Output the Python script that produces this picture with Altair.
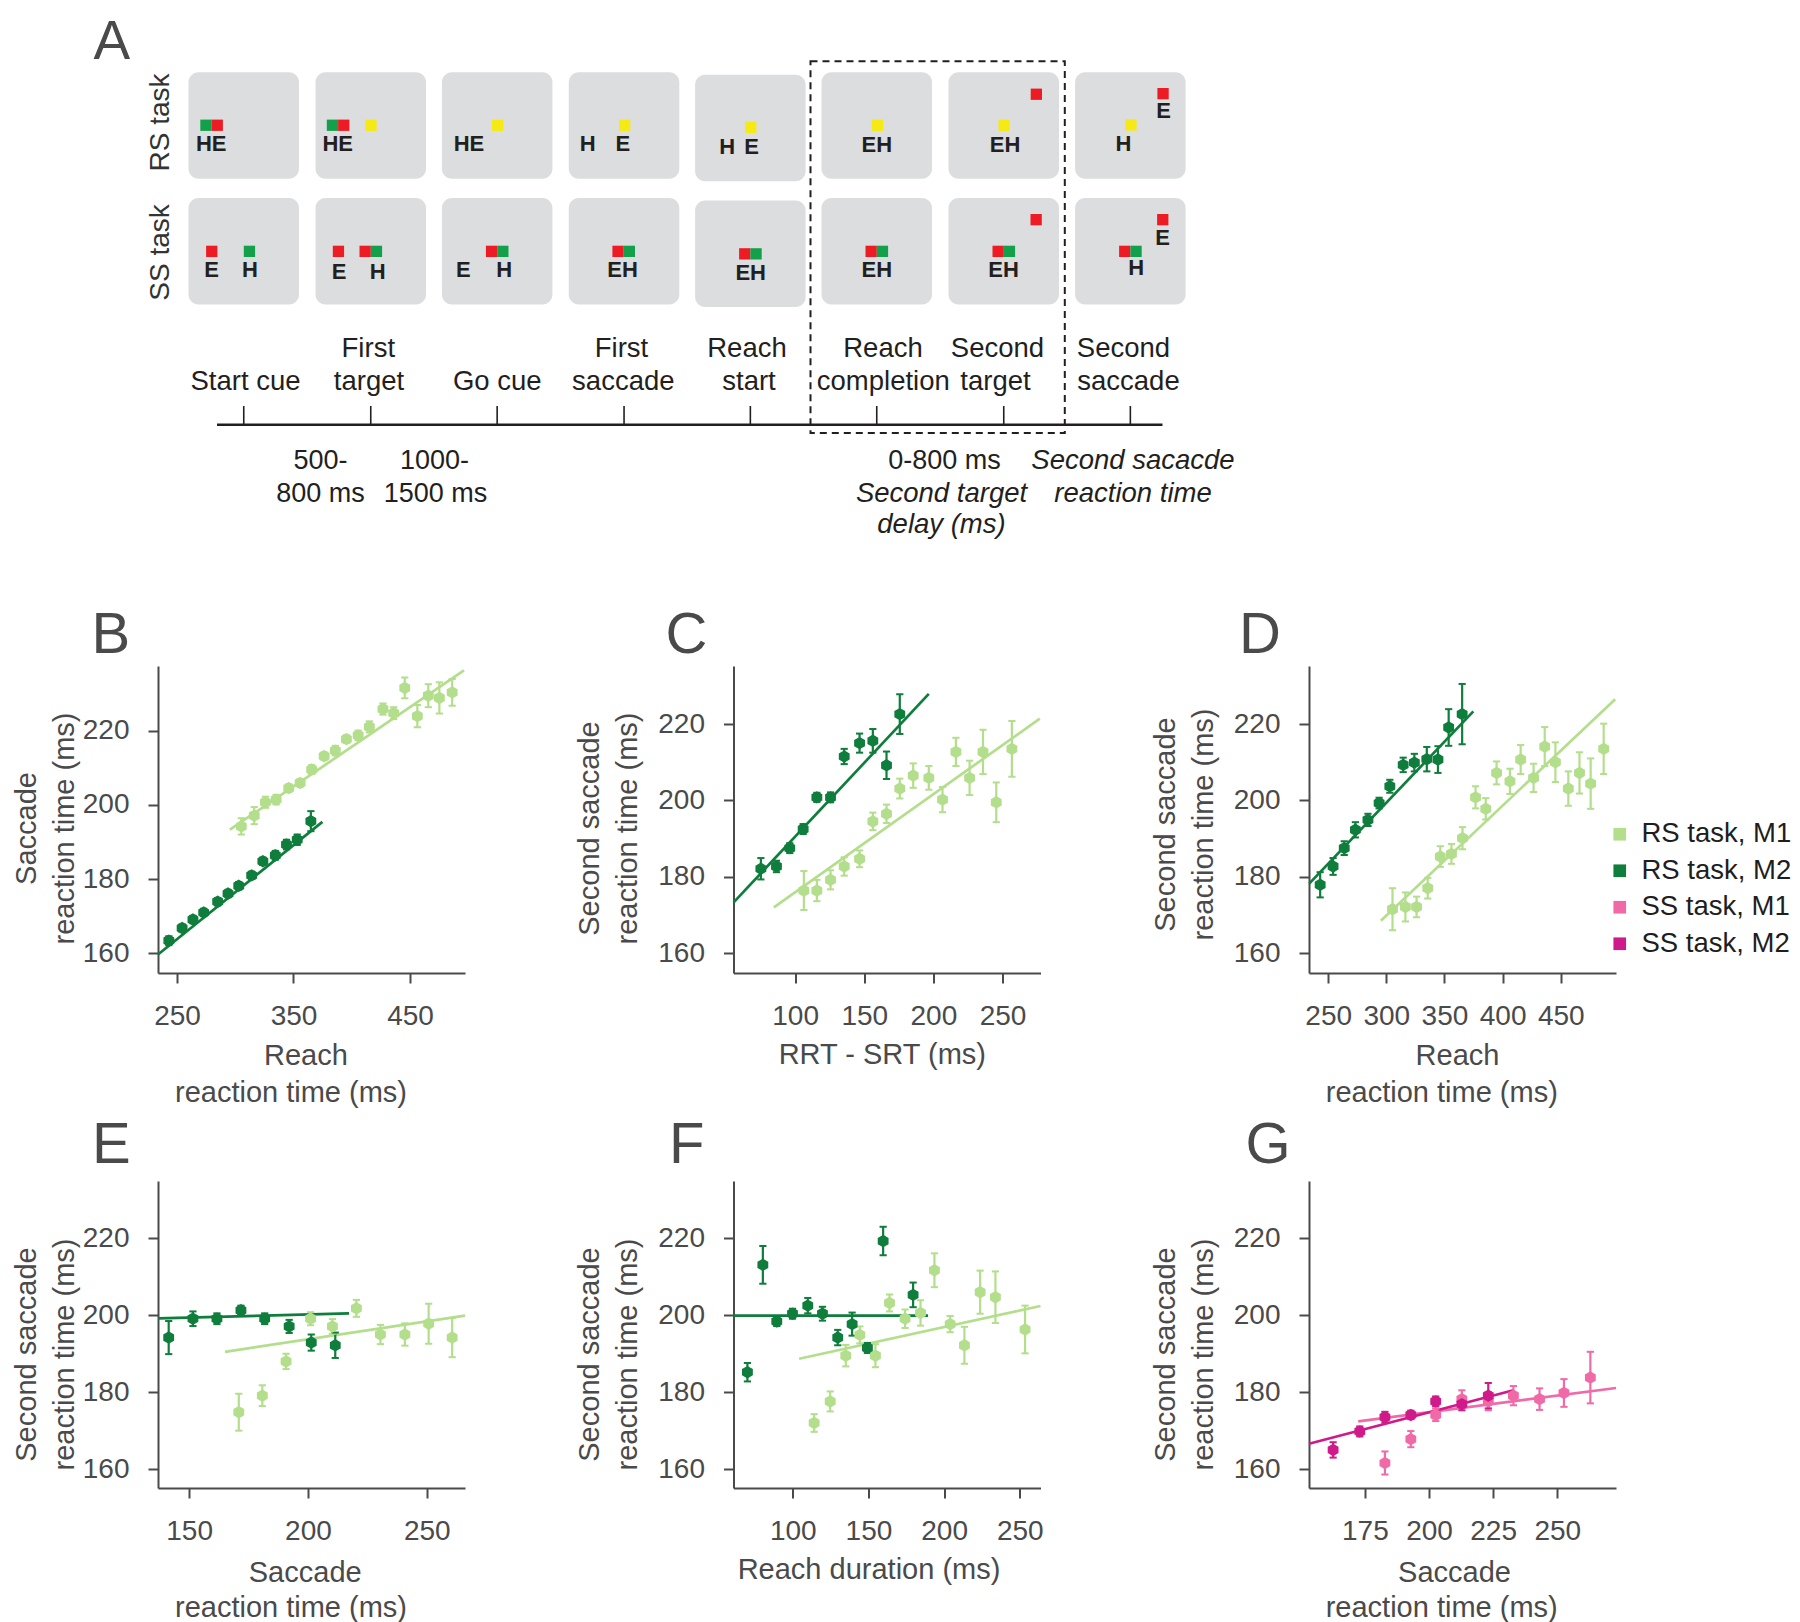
import altair as alt
import pandas as pd

FONT = "Liberation Sans"
AXC = "#4a4a4a"
INK = "#231f20"

CATS = ["RS task, M1", "RS task, M2", "SS task, M1", "SS task, M2"]
COLORS = ["#b3de8c", "#0f7d3c", "#f06aa8", "#cf1b8a"]
YTICKS = [160, 180, 200, 220]

# ---------------- Panel B : saccade RT vs reach RT ----------------
B_M1_X = [305.2, 316.3, 325.9, 335.1, 345.9, 355.7, 365.6, 376.3, 385.9, 395.4, 405.5, 415.1, 426.8, 436.0, 445.5, 456.3, 465.7, 475.2, 486.2]
B_M1_Y = [194.2, 197.1, 200.7, 201.4, 204.5, 205.9, 209.5, 213.1, 214.6, 217.7, 218.7, 221.0, 225.8, 224.7, 231.5, 223.9, 229.4, 228.8, 230.3]
B_M1_E = [2.2, 2.3, 1.5, 1.3, 1.0, 1.0, 1.2, 1.0, 1.3, 1.0, 1.3, 1.5, 1.5, 1.6, 2.8, 3.0, 3.1, 4.2, 3.6]
B_M1_FIT = [295.4, 193.3, 496.3, 236.2]
B_M2_X = [243.0, 254.4, 263.7, 272.9, 284.9, 293.8, 303.0, 314.1, 323.7, 334.4, 344.0, 353.2, 364.9]
B_M2_Y = [163.4, 166.8, 169.1, 171.0, 173.9, 176.1, 178.2, 181.0, 184.8, 186.4, 189.3, 190.6, 195.6]
B_M2_E = [1.2, 1.0, 1.0, 1.0, 1.0, 1.0, 1.0, 1.0, 1.0, 1.2, 1.3, 1.4, 2.7]
B_M2_FIT = [233.7, 159.7, 374.8, 195.4]

# ---------------- Panel C : second saccade RT vs RRT-SRT ----------------
C_M1_X = [106.3, 115.7, 125.6, 135.5, 146.6, 156.2, 166.1, 175.7, 185.4, 196.7, 206.6, 216.3, 226.2, 235.9, 245.5, 256.8]
C_M1_Y = [176.4, 176.4, 179.2, 182.7, 184.7, 194.5, 196.5, 203.1, 206.5, 205.9, 200.2, 212.7, 205.9, 212.7, 199.5, 213.5]
C_M1_E = [5.1, 2.8, 2.5, 2.4, 2.2, 2.3, 2.4, 2.6, 3.2, 3.1, 3.3, 3.7, 4.5, 5.8, 5.2, 7.3]
C_M1_FIT = [84.6, 172.0, 277.0, 221.4]
C_M2_X = [75.2, 86.5, 96.1, 105.8, 115.7, 125.6, 135.5, 146.6, 156.2, 166.1, 175.7]
C_M2_Y = [182.1, 182.7, 187.5, 192.5, 200.8, 200.8, 211.5, 215.0, 215.6, 209.2, 222.6]
C_M2_E = [2.8, 1.5, 1.3, 1.3, 1.2, 1.3, 2.0, 2.5, 3.1, 3.6, 5.2]
C_M2_FIT = [55.5, 173.3, 196.7, 227.9]

# ---------------- Panel D : second saccade RT vs reach RT ----------------
D_M1_X = [305.3, 316.4, 326.0, 335.6, 346.4, 356.0, 365.5, 376.7, 385.5, 394.8, 406.3, 415.5, 426.6, 436.2, 445.4, 456.5, 466.1, 475.7, 486.9]
D_M1_Y = [171.5, 172.1, 172.1, 177.0, 185.3, 186.0, 190.1, 200.8, 197.8, 207.2, 205.0, 210.7, 205.9, 214.1, 210.0, 203.1, 207.2, 204.4, 213.5]
D_M1_E = [5.5, 3.8, 2.7, 2.7, 2.7, 2.6, 2.9, 2.9, 2.8, 3.0, 3.3, 3.8, 3.7, 5.1, 5.2, 4.5, 5.4, 6.6, 6.6]
D_M1_FIT = [295.3, 168.5, 496.8, 226.5]
D_M2_X = [243.1, 254.2, 263.8, 273.4, 284.2, 293.8, 303.0, 314.5, 324.1, 334.8, 344.4, 353.6, 365.2]
D_M2_Y = [177.9, 182.7, 187.5, 192.3, 194.9, 199.3, 203.7, 209.3, 209.9, 210.8, 210.7, 219.1, 222.6]
D_M2_E = [3.3, 2.2, 1.8, 2.0, 1.6, 1.4, 1.7, 1.9, 2.3, 3.2, 3.5, 4.8, 7.9]
D_M2_FIT = [233.7, 178.2, 374.8, 223.3]

# ---------------- Panel E : second saccade RT vs saccade RT ----------------
E_M1_X = [170.9, 180.8, 190.8, 201.1, 210.3, 220.4, 230.5, 240.8, 250.8, 260.7]
E_M1_Y = [174.8, 179.1, 188.0, 199.1, 197.1, 201.8, 195.0, 195.0, 197.8, 194.2]
E_M1_E = [4.8, 2.7, 2.0, 1.7, 1.9, 2.2, 2.5, 2.9, 5.2, 5.1]
E_M1_FIT = [165.1, 190.5, 266.1, 199.9]
E_M2_X = [141.4, 151.6, 161.7, 171.8, 181.8, 192.1, 201.4, 211.5]
E_M2_Y = [194.2, 199.1, 199.1, 201.3, 199.1, 197.1, 192.9, 192.2]
E_M2_E = [4.3, 1.9, 1.4, 1.2, 1.4, 1.7, 2.1, 3.3]
E_M2_FIT = [136.9, 199.2, 217.3, 200.5]

# ---------------- Panel F : second saccade RT vs reach duration ----------------
F_M1_X = [114.1, 124.7, 135.0, 144.3, 154.6, 163.9, 174.2, 184.4, 193.6, 204.0, 213.4, 223.8, 233.9, 253.5]
F_M1_Y = [172.0, 177.6, 189.5, 194.9, 189.5, 203.2, 199.1, 200.6, 211.7, 197.7, 192.2, 206.0, 204.7, 196.3]
F_M1_E = [2.3, 2.6, 2.8, 2.2, 3.0, 2.2, 2.4, 3.3, 4.4, 2.1, 4.8, 5.6, 6.7, 6.2]
F_M1_FIT = [104.2, 188.7, 263.7, 202.4]
F_M2_X = [70.0, 80.2, 89.4, 99.8, 109.9, 119.6, 129.7, 139.2, 149.3, 159.7, 179.5]
F_M2_Y = [185.2, 213.1, 198.4, 200.4, 202.5, 200.4, 194.2, 197.7, 191.5, 219.3, 205.3]
F_M2_E = [2.4, 4.9, 1.2, 1.3, 2.0, 1.8, 2.0, 3.0, 1.3, 3.7, 3.2]
F_M2_FIT = [60.8, 199.9, 189.4, 199.9]

# ---------------- Panel G : SS task ----------------
G_M1_X = [182.8, 192.9, 202.6, 212.8, 223.1, 232.9, 243.1, 252.6, 262.9]
G_M1_Y = [161.6, 167.8, 174.1, 178.2, 177.6, 179.1, 178.2, 179.8, 183.8]
G_M1_E = [3.0, 2.1, 1.6, 2.3, 2.3, 2.5, 2.8, 3.6, 6.7]
G_M1_FIT = [172.4, 172.4, 272.9, 181.1]
G_M2_X = [162.6, 173.0, 182.8, 192.9, 202.6, 212.8, 223.1]
G_M2_Y = [165.0, 169.8, 173.5, 174.1, 177.6, 176.9, 179.1]
G_M2_E = [2.0, 1.3, 1.4, 1.1, 1.3, 1.6, 3.3]
G_M2_FIT = [153.2, 166.6, 232.9, 180.5]

# ---------------- Panel A : task schematic (figure pixel frame) ----------------
A_BOX_X0 = [188.0, 315.0, 441.4, 568.3, 694.6, 821.0, 948.0, 1074.6]
A_BOX_DY = [0, 0, 0, 0, 2.5, 0, 0, 0]
A_ROW_Y0 = [69.3, 195.0]
A_BOX_W, A_BOX_H, A_SQ = 110.5, 106.4, 11.3
A_FILL = {"R": "#ed1c24", "G": "#13a04a", "Y": "#f5ea14"}

SQ_COL = [0, 0, 1, 1, 1, 2, 3, 4, 5, 6, 6, 7, 7,
          0, 0, 1, 1, 1, 2, 2, 3, 3, 4, 4, 5, 5, 6, 6, 6, 7, 7, 7]
SQ_ROW = [0] * 13 + [1] * 19
SQ_X = [11.8, 23.1, 11.3, 22.6, 49.8, 50.0, 50.2, 50.0, 50.3, 50.0, 82.2, 50.2, 82.3,
        17.6, 55.3, 17.3, 44.0, 55.3, 44.0, 55.3, 43.6, 54.9, 44.0, 55.3, 44.0, 55.3, 44.0, 55.3, 82.0, 44.0, 55.3, 82.0]
SQ_Y = [47.3, 47.3, 47.3, 47.3, 47.3, 47.3, 47.3, 47.0, 47.3, 47.3, 16.3, 47.0, 15.7,
        47.7, 47.7, 47.7, 47.7, 47.7, 47.7, 47.7, 47.7, 47.7, 47.7, 47.7, 47.7, 47.7, 47.7, 47.7, 16.0, 47.7, 47.7, 16.0]
SQ_C = ["G", "R", "G", "R", "Y", "Y", "Y", "Y", "Y", "Y", "R", "Y", "R",
        "R", "G", "R", "R", "G", "R", "G", "R", "G", "R", "G", "R", "G", "R", "G", "R", "R", "G", "R"]

BT_TEXT = ["HE", "HE", "HE", "H", "E", "H", "E", "EH", "EH", "E", "H",
           "E", "H", "E", "H", "E", "H", "EH", "EH", "EH", "EH", "E", "H"]
BT_COL = [0, 1, 2, 3, 3, 4, 4, 5, 6, 7, 7,
          0, 0, 1, 1, 2, 2, 3, 4, 5, 6, 7, 7]
BT_ROW = [0] * 11 + [1] * 12
BT_X = [22.7, 22.2, 27.1, 18.8, 54.0, 32.2, 56.6, 55.3, 56.5, 88.6, 48.3,
        23.1, 61.5, 23.7, 62.2, 21.5, 62.3, 53.8, 55.6, 55.3, 55.0, 87.5, 61.1]
BT_Y = [79.0, 79.0, 79.0, 79.0, 79.0, 79.0, 79.0, 80.0, 80.0, 45.7, 79.0,
        79.0, 79.0, 80.5, 80.5, 79.0, 79.0, 79.0, 79.0, 79.0, 79.0, 46.7, 76.7]

EV_TEXT = ["First", "First", "Reach", "Reach", "Second", "Second",
           "Start cue", "target", "Go cue", "saccade", "start", "completion", "target", "saccade"]
EV_X = [367.8, 621.0, 746.5, 882.5, 997.0, 1123.0,
        245.0, 368.5, 496.8, 622.8, 748.5, 882.8, 995.0, 1128.0]
EV_Y = [353.5] * 6 + [387.0] * 8

NOTE_TEXT = ["500-", "800 ms", "1000-", "1500 ms", "0-800 ms"]
NOTE_X = [320.0, 320.0, 434.0, 435.0, 944.0]
NOTE_Y = [465.7, 499.3, 465.7, 499.3, 465.7]
ITAL_TEXT = ["Second target", "delay (ms)", "Second sacacde", "reaction time"]
ITAL_X = [941.0, 941.0, 1132.5, 1132.5]
ITAL_Y = [499.3, 530.0, 465.7, 499.3]

ROWLAB_TEXT = ["RS task", "SS task"]
ROWLAB_X = [160.0, 160.0]
ROWLAB_Y = [119.5, 249.5]

LET_TEXT = ["A", "B", "C", "D", "E", "F", "G"]
LET_X = [93.0, 91.0, 665.0, 1238.5, 91.5, 668.5, 1245.0]
LET_Y = [56.0, 650.0, 650.0, 650.0, 1160.0, 1160.0, 1160.0]
LET_FS = [55, 58, 58, 58, 58, 58, 58]

# first line of the two-line x titles (B, D, E, G)
XT1_TEXT = ["Reach", "Reach", "Saccade", "Saccade"]
XT1_X = [305.4, 1457.0, 304.7, 1454.0]
XT1_Y = [1062.0, 1062.0, 1578.5, 1578.5]

TIMELINE = [216.5, 1162.0, 421.7, 403.0]     # x0, x1, y, tick top
DASHBOX = [810.0, 58.3, 1064.3, 430.0]

# panel B's plot area origin inside the figure frame (schematic layers live in panel B)
OX, OY = 157.5, 663.0

W = 307
H = 307
HEX = "M0,-1L0.87,-0.5L0.87,0.5L0,1L-0.87,0.5L-0.87,-0.5Z"


def schematic_layers():
    P = lambda v: v - OX
    Q = lambda v: v - OY
    boxes = []
    for r in range(2):
        for c in range(8):
            x0 = A_BOX_X0[c]
            y0 = A_ROW_Y0[r] + A_BOX_DY[c]
            boxes.append(dict(x=P(x0), x2=P(x0 + A_BOX_W), y=Q(y0), y2=Q(y0 + A_BOX_H), f="#dcddde"))
    dbox = pd.DataFrame(boxes)
    sq = []
    for c, r, xr, yr, k in zip(SQ_COL, SQ_ROW, SQ_X, SQ_Y, SQ_C):
        x0 = A_BOX_X0[c] + xr
        y0 = A_ROW_Y0[r] + A_BOX_DY[c] + yr
        sq.append(dict(x=P(x0), x2=P(x0 + A_SQ), y=Q(y0), y2=Q(y0 + A_SQ), f=A_FILL[k]))
    dsq = pd.DataFrame(sq)
    bt = []
    for t, c, r, xr, yr in zip(BT_TEXT, BT_COL, BT_ROW, BT_X, BT_Y):
        bt.append(dict(t=t, x=P(A_BOX_X0[c] + xr), y=Q(A_ROW_Y0[r] + A_BOX_DY[c] + yr)))
    dbt = pd.DataFrame(bt)
    dev = pd.DataFrame(dict(t=EV_TEXT, x=[P(v) for v in EV_X], y=[Q(v) for v in EV_Y]))
    dno = pd.DataFrame(dict(t=NOTE_TEXT, x=[P(v) for v in NOTE_X], y=[Q(v) for v in NOTE_Y]))
    dit = pd.DataFrame(dict(t=ITAL_TEXT, x=[P(v) for v in ITAL_X], y=[Q(v) for v in ITAL_Y]))
    drl = pd.DataFrame(dict(t=ROWLAB_TEXT, x=[P(v) for v in ROWLAB_X], y=[Q(v) for v in ROWLAB_Y]))
    dlet = pd.DataFrame(dict(t=LET_TEXT, x=[P(v) for v in LET_X], y=[Q(v) for v in LET_Y], fs=LET_FS))
    dxt = pd.DataFrame(dict(t=XT1_TEXT, x=[P(v) for v in XT1_X], y=[Q(v) for v in XT1_Y]))
    tl_x0, tl_x1, tl_y, tl_top = TIMELINE
    dtl = pd.DataFrame(dict(x=[P(tl_x0)], x2=[P(tl_x1)], y=[Q(tl_y)]))
    centers = [P(v + A_BOX_W / 2) for v in A_BOX_X0]
    dtk = pd.DataFrame(dict(x=centers, y=[Q(tl_top)] * 8, y2=[Q(tl_y)] * 8))
    ddb = pd.DataFrame(dict(x=[P(DASHBOX[0])], x2=[P(DASHBOX[2])], y=[Q(DASHBOX[1])], y2=[Q(DASHBOX[3])]))

    X = alt.X("x:Q", scale=None)
    Y = alt.Y("y:Q", scale=None)
    X2 = alt.X2("x2:Q")
    Y2 = alt.Y2("y2:Q")
    layers = [
        alt.Chart(dbox).mark_rect(cornerRadius=10).encode(X, X2, Y, Y2, fill=alt.Fill("f:N", scale=None)),
        alt.Chart(dsq).mark_rect().encode(X, X2, Y, Y2, fill=alt.Fill("f:N", scale=None)),
        alt.Chart(dbt).mark_text(font=FONT, fontSize=22, fontWeight="bold", color=INK,
                                 align="center", baseline="alphabetic").encode(X, Y, text="t:N"),
        alt.Chart(dtl).mark_rule(strokeWidth=2.5, color=INK).encode(X, X2, Y),
        alt.Chart(dtk).mark_rule(strokeWidth=1.6, color=INK).encode(X, Y, Y2),
        alt.Chart(ddb).mark_rect(fillOpacity=0, stroke=INK, strokeWidth=2,
                                 strokeDash=[7, 5]).encode(X, X2, Y, Y2),
        alt.Chart(dev).mark_text(font=FONT, fontSize=27.5, color=INK, align="center",
                                 baseline="alphabetic").encode(X, Y, text="t:N"),
        alt.Chart(dno).mark_text(font=FONT, fontSize=27, color=INK, align="center",
                                 baseline="alphabetic").encode(X, Y, text="t:N"),
        alt.Chart(dit).mark_text(font=FONT, fontSize=27.5, fontStyle="italic", color=INK, align="center",
                                 baseline="alphabetic").encode(X, Y, text="t:N"),
        alt.Chart(drl).mark_text(font=FONT, fontSize=28, color="#333333", align="center",
                                 baseline="middle", angle=270).encode(X, Y, text="t:N"),
        alt.Chart(dlet).mark_text(font=FONT, color=AXC, align="left",
                                  baseline="alphabetic").encode(X, Y, text="t:N",
                                                                 size=alt.Size("fs:Q", scale=None)),
        alt.Chart(dxt).mark_text(font=FONT, fontSize=29, color=AXC, align="center",
                                 baseline="alphabetic").encode(X, Y, text="t:N"),
    ]
    return layers


def panel(series, xdom, ydom, xvals, xtitle, ytitle, title_x, title_y,
          x_pad=10, y_pad=15, legend=None, extra=()):
    pts, fits = [], []
    for cat, xs, ys, es, fit in series:
        for x, y, e in zip(xs, ys, es):
            pts.append(dict(cat=cat, x=x, y=y, lo=y - e, hi=y + e))
        fits.append(dict(cat=cat, x=fit[0], y=fit[1]))
        fits.append(dict(cat=cat, x=fit[2], y=fit[3]))
    dp = pd.DataFrame(pts)
    dl = pd.DataFrame(fits)
    xs = alt.Scale(domain=xdom, nice=False, zero=False)
    ys = alt.Scale(domain=ydom, nice=False, zero=False)
    xax = alt.Axis(values=xvals, title=xtitle, titleX=title_x, titlePadding=x_pad)
    yax = alt.Axis(values=YTICKS, title=ytitle, titleY=title_y, titlePadding=y_pad)
    cs = alt.Scale(domain=CATS, range=COLORS)
    X = alt.X("x:Q", scale=xs, axis=xax)
    if legend is None:
        C0 = alt.Color("cat:N", scale=cs, legend=None)
        CP = C0
    else:
        C0 = alt.Color("cat:N", scale=cs)
        CP = alt.Color("cat:N", scale=cs, legend=legend)
    line = alt.Chart(dl).mark_line(strokeWidth=2.7).encode(
        X, alt.Y("y:Q", scale=ys, axis=yax), C0, detail="cat:N")
    bar = alt.Chart(dp).mark_rule(strokeWidth=2.2).encode(
        X, alt.Y("lo:Q", scale=ys, axis=yax), alt.Y2("hi:Q"), C0)
    cap_lo = alt.Chart(dp).mark_rule(strokeWidth=2, xOffset=-3.6, x2Offset=3.6).encode(
        X, alt.X2("x:Q"), alt.Y("lo:Q", scale=ys, axis=yax), C0)
    cap_hi = alt.Chart(dp).mark_rule(strokeWidth=2, xOffset=-3.6, x2Offset=3.6).encode(
        X, alt.X2("x:Q"), alt.Y("hi:Q", scale=ys, axis=yax), C0)
    dots = alt.Chart(dp).mark_point(shape=HEX, filled=True, size=155, opacity=1).encode(
        X, alt.Y("y:Q", scale=ys, axis=yax), CP)
    if legend is None:
        layers = [line, bar, cap_lo, cap_hi, dots]
    else:
        layers = [dots, line, bar, cap_lo, cap_hi]
    return alt.layer(*layers, *extra).properties(width=W, height=H)


T1 = ["Second saccade", "reaction time (ms)"]
RT2 = "reaction time (ms)"
PAD2 = 48   # second-line x title sits one line below the first

pB = panel([(CATS[0], B_M1_X, B_M1_Y, B_M1_E, B_M1_FIT), (CATS[1], B_M2_X, B_M2_Y, B_M2_E, B_M2_FIT)],
           [233.7, 497.2], [154.7, 237.4], [250, 350, 450],
           RT2, ["Saccade", "reaction time (ms)"], 132.5, 162, x_pad=PAD2, y_pad=3,
           extra=schematic_layers())
pC = panel([(CATS[0], C_M1_X, C_M1_Y, C_M1_E, C_M1_FIT), (CATS[1], C_M2_X, C_M2_Y, C_M2_E, C_M2_FIT)],
           [55.4, 277.5], [154.8, 235.2], [100, 150, 200, 250],
           "RRT - SRT (ms)", T1, 148.3, 162)
LEG = alt.Legend(orient="none", legendX=297, legendY=154.5, title=None, symbolType="square",
                 symbolSize=160, symbolOpacity=1, symbolStrokeWidth=0, labelFont=FONT,
                 labelFontSize=27.5, labelColor="#1e1e1e", labelLimit=400, labelOffset=8,
                 rowPadding=7.5, padding=0)
pD = panel([(CATS[0], D_M1_X, D_M1_Y, D_M1_E, D_M1_FIT), (CATS[1], D_M2_X, D_M2_Y, D_M2_E, D_M2_FIT)],
           [233.5, 497.5], [154.8, 235.2], [250, 300, 350, 400, 450],
           RT2, T1, 132.3, 158, x_pad=PAD2, legend=LEG)
pE = panel([(CATS[0], E_M1_X, E_M1_Y, E_M1_E, E_M1_FIT), (CATS[1], E_M2_X, E_M2_Y, E_M2_E, E_M2_FIT)],
           [136.9, 266.1], [155.1, 234.9], [150, 200, 250],
           RT2, T1, 132.5, 173, x_pad=PAD2, y_pad=3)
pF = panel([(CATS[0], F_M1_X, F_M1_Y, F_M1_E, F_M1_FIT), (CATS[1], F_M2_X, F_M2_Y, F_M2_E, F_M2_FIT)],
           [60.8, 263.7], [155.1, 234.9], [100, 150, 200, 250],
           "Reach duration (ms)", T1, 135, 173)
pG = panel([(CATS[2], G_M1_X, G_M1_Y, G_M1_E, G_M1_FIT), (CATS[3], G_M2_X, G_M2_Y, G_M2_E, G_M2_FIT)],
           [153.2, 272.9], [155.1, 234.9], [175, 200, 225, 250],
           RT2, T1, 132.2, 173, x_pad=PAD2)

chart = alt.concat(pB, pC, pD, pE, pF, pG, columns=3,
                   spacing={"row": 208, "column": 268.5}, bounds="flush")
chart = chart.resolve_scale(color="independent").configure_axis(
    domainColor=AXC, domainWidth=2, tickColor=AXC, tickWidth=2, tickSize=10,
    labelFont=FONT, labelFontSize=28, labelColor=AXC, labelPadding=19,
    labelFlush=False, labelOverlap=False, grid=False,
    titleFont=FONT, titleFontSize=29, titleFontWeight="normal", titleColor=AXC,
    titleLineHeight=38,
).configure_view(
    strokeWidth=0
).properties(padding={"left": 4, "top": 7, "right": 0, "bottom": 0})

chart.save("out.html", embed_options={"renderer": "svg", "actions": False})
